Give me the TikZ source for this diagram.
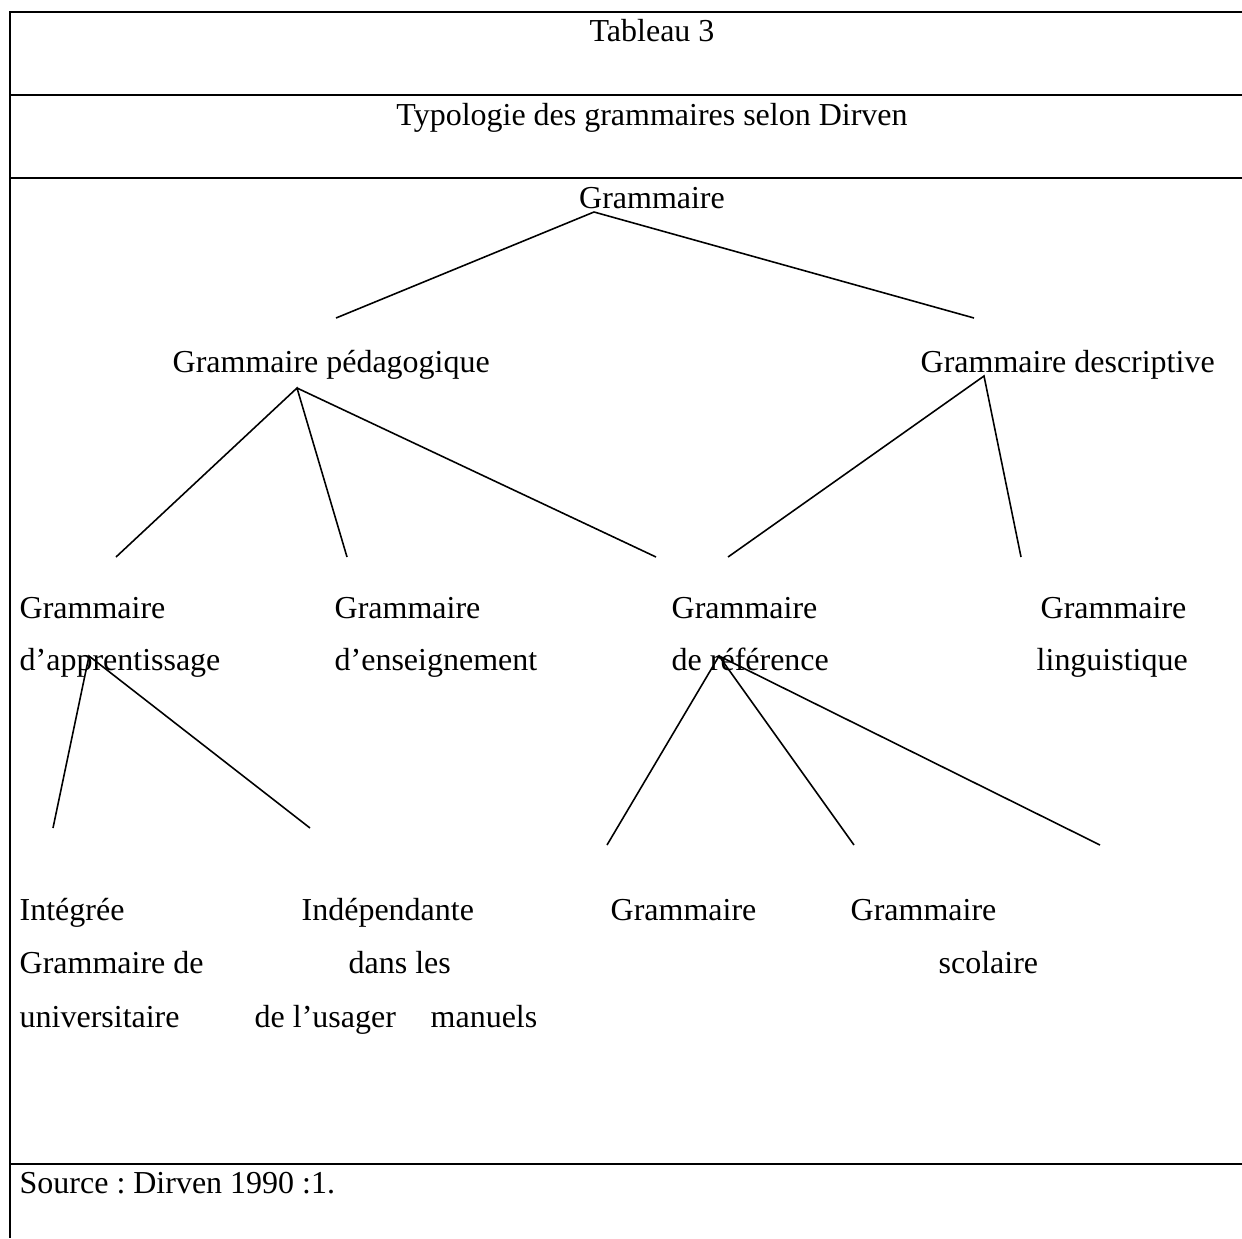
\documentclass[tikz,border=0pt]{standalone}
\usepackage{fontspec}
\setmainfont{Liberation Serif}
\frenchspacing
\tikzset{
  lbl/.style={inner sep=0pt, anchor=base west, font=\fontsize{9.1}{11}\selectfont},
  mid/.style={lbl, anchor=base},
  rule/.style={line width=0.6pt},
  branch/.style={line width=0.45pt}
}
\begin{document}
\begin{tikzpicture}
    \useasboundingbox (0,0) rectangle (12.42,-12.38);
    % table rules
    \draw[rule] (12.42,-0.12) -- (0.10,-0.12) -- (0.10,-12.38);
    \draw[rule] (0.10,-0.95) -- (12.42,-0.95);
    \draw[rule] (0.10,-1.78) -- (12.42,-1.78);
    \draw[rule] (0.10,-11.64) -- (12.42,-11.64);
    % headings
    \node[mid] (tab)  at (6.52,-0.41) {Tableau 3};
    \node[mid] (typo) at (6.52,-1.25) {Typologie des grammaires selon Dirven};
    % tree labels
    \node[mid] (gram) at (6.52,-2.08) {Grammaire};
    \node[lbl] (ped)  at (1.72,-3.72) {Grammaire pédagogique};
    \node[lbl] (desc) at (9.20,-3.72) {Grammaire descriptive};
    \node[lbl] (app1) at (0.19,-6.18) {Grammaire};
    \node[lbl] (app2) at (0.19,-6.70) {d’apprentissage};
    \node[lbl] (ens1) at (3.34,-6.18) {Grammaire};
    \node[lbl] (ens2) at (3.34,-6.70) {d’enseignement};
    \node[lbl] (ref1) at (6.71,-6.18) {Grammaire};
    \node[lbl] (ref2) at (6.71,-6.70) {de référence};
    \node[lbl] (ling1) at (10.40,-6.18) {Grammaire};
    \node[lbl] (ling2) at (10.36,-6.70) {linguistique};
    \node[lbl] (integ) at (0.19,-9.20) {Intégrée};
    \node[lbl] (gde)   at (0.19,-9.73) {Grammaire de};
    \node[lbl] (univ)  at (0.19,-10.27) {universitaire};
    \node[lbl] (indep) at (3.01,-9.20) {Indépendante};
    \node[lbl] (dans)  at (3.48,-9.73) {dans les};
    \node[lbl] (usag)  at (2.54,-10.27) {de l’usager};
    \node[lbl] (man)   at (4.30,-10.27) {manuels};
    \node[lbl] (gmm)   at (6.10,-9.20) {Grammaire};
    \node[lbl] (gsc)   at (8.50,-9.20) {Grammaire};
    \node[lbl] (scol)  at (9.38,-9.73) {scolaire};
    \node[lbl] (src)   at (0.19,-11.93) {Source : Dirven 1990 :1.};
    % branch ends
    \coordinate (gtop) at (5.94,-2.12);
    \coordinate (gl)   at (3.36,-3.18);
    \coordinate (gr)   at (9.74,-3.18);
    \coordinate (ptop) at (2.97,-3.88);
    \coordinate (pa)   at (1.16,-5.57);
    \coordinate (pb)   at (3.47,-5.57);
    \coordinate (pc)   at (6.56,-5.57);
    \coordinate (dtop) at (9.84,-3.76);
    \coordinate (da)   at (7.28,-5.57);
    \coordinate (db)   at (10.21,-5.57);
    \coordinate (atop) at (0.89,-6.56);
    \coordinate (aa)   at (0.53,-8.28);
    \coordinate (ab)   at (3.10,-8.28);
    \coordinate (rtop) at (7.19,-6.56);
    \coordinate (ra)   at (6.07,-8.45);
    \coordinate (rb)   at (8.54,-8.45);
    \coordinate (rc)   at (11.00,-8.45);
    % branches
    \draw[branch] (gl) -- (gtop) -- (gr);
    \draw[branch] (pa) -- (ptop) -- (pb) (ptop) -- (pc);
    \draw[branch] (da) -- (dtop) -- (db);
    \draw[branch] (aa) -- (atop) -- (ab);
    \draw[branch] (ra) -- (rtop) -- (rb) (rtop) -- (rc);
\end{tikzpicture}
\end{document}
